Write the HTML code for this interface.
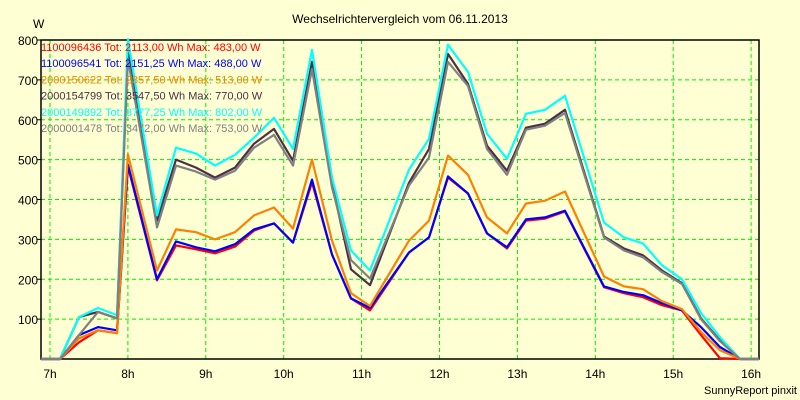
<!DOCTYPE html>
<html><head><meta charset="utf-8"><style>
body{margin:0;background:#ffffd4;}
svg{display:block;font-family:"Liberation Sans",sans-serif;}
</style></head><body>
<svg id="c" width="800" height="400">
<rect x="0" y="0" width="800" height="400" fill="#ffffd4"/>
<text x="400" y="23" text-anchor="middle" font-size="12">Wechselrichtervergleich vom 06.11.2013</text>
<text x="33" y="28" font-size="12">W</text>
<text x="797" y="394" text-anchor="end" font-size="11">SunnyReport pinxit</text>
<g id="grid"></g>
<g id="axes"></g>
<g id="series"></g>
<g id="legend"></g>
</svg>
<script>
const times=[6.885,7.128,7.372,7.616,7.86,8.0,8.373,8.617,8.874,9.118,9.375,9.619,9.875,10.119,10.363,10.62,10.864,11.108,11.609,11.865,12.109,12.366,12.61,12.867,13.11,13.354,13.611,14.112,14.368,14.612,14.856,15.113,15.357,15.6,15.857,16.1];
const red=[0,0,42,72,65,483,197,285,275,265,282,322,340,292,443,262,152,122,267,305,455,415,315,277,347,352,370,180,165,155,135,122,60,2,0,0];
const blue=[0,0,60,80,72,488,200,295,280,270,288,325,340,292,450,262,152,128,267,305,458,415,315,280,350,355,372,182,168,160,140,122,80,30,0,0];
const orange=[0,0,52,72,65,513,222,325,318,300,318,360,380,327,500,297,165,133,297,347,510,462,355,315,390,397,420,207,182,175,145,125,68,22,0,0];
const dark=[0,0,105,118,102,770,347,500,480,455,480,540,577,497,745,440,225,185,442,527,765,690,535,472,580,590,625,307,277,260,222,190,102,47,0,0];
const cyan=[0,0,105,128,110,802,360,530,515,485,512,555,605,527,775,455,272,222,475,552,788,720,565,502,615,625,660,342,305,290,235,200,115,55,0,0];
const gray=[0,0,60,118,102,753,330,485,470,450,472,530,562,485,727,430,248,202,435,505,745,685,527,462,575,585,617,305,272,255,218,188,100,45,0,0];
const legendLabels=["1100096436 Tot: 2113,00 Wh Max: 483,00 W","1100096541 Tot: 2151,25 Wh Max: 488,00 W","2000150622 Tot: 2357,50 Wh Max: 513,00 W","2000154799 Tot: 3547,50 Wh Max: 770,00 W","2000149892 Tot: 3777,25 Wh Max: 802,00 W","2000001478 Tot: 3472,00 Wh Max: 753,00 W"];
const yTicks=[100,200,300,400,500,600,700,800];
const xTicks=[7,8,9,10,11,12,13,14,15,16];

const NS="http://www.w3.org/2000/svg";
const L=41,R=759,T=40,B=359;
function xs(h){return 50+(h-7)*77.9;}
function ys(v){return B-v*(B-T)/800;}
function mk(tag,attrs,parent){const e=document.createElementNS(NS,tag);for(const k in attrs)e.setAttribute(k,attrs[k]);parent.appendChild(e);return e;}
const grid=document.getElementById('grid'),axes=document.getElementById('axes'),ser=document.getElementById('series'),leg=document.getElementById('legend');
yTicks.forEach(v=>{
 const l=mk('line',{x1:L,x2:R,y1:ys(v),y2:ys(v),stroke:'#00ee00','stroke-dasharray':'4,3'},grid);
 
 
 const t=mk('line',{x1:L-4,x2:L,y1:ys(v),y2:ys(v),stroke:'#000'},axes);
 
 
 const tx=mk('text',{x:L-3,y:ys(v)+5,'text-anchor':'end','font-size':'12'},axes);
 tx.textContent=v;
 
 
});
xTicks.forEach(h=>{
 const l=mk('line',{x1:xs(h),x2:xs(h),y1:T,y2:B,stroke:'#00ee00','stroke-dasharray':'4,3'},grid);
 
 
 const tx=mk('text',{x:xs(h),y:378,'text-anchor':'middle','font-size':'12'},axes);
 tx.textContent=h+'h';
 
 
});
const fr=mk('rect',{x:L,y:T,width:R-L,height:B-T,fill:'none',stroke:'#000','stroke-width':'1.5'},axes);


const all=[[red,'#ff0000'],[blue,'#0000ff'],[orange,'#ff8000'],[dark,'#4a3048'],[cyan,'#00ffff'],[gray,'#808080']];
all.forEach((s,i)=>{
 const d=s[0].map((v,j)=>(j?'L':'M')+xs(times[j]).toFixed(1)+','+ys(v).toFixed(1)).join(' ');
 const p=mk('path',{d:d,fill:'none',stroke:s[1],'stroke-width':'2.2','stroke-linejoin':'round'},ser);
 
 
 const tx=mk('text',{x:41,y:51+i*16.2,'font-size':'11',fill:s[1]},leg);
 tx.textContent=legendLabels[i];
 
 
});
</script>
</body></html>
